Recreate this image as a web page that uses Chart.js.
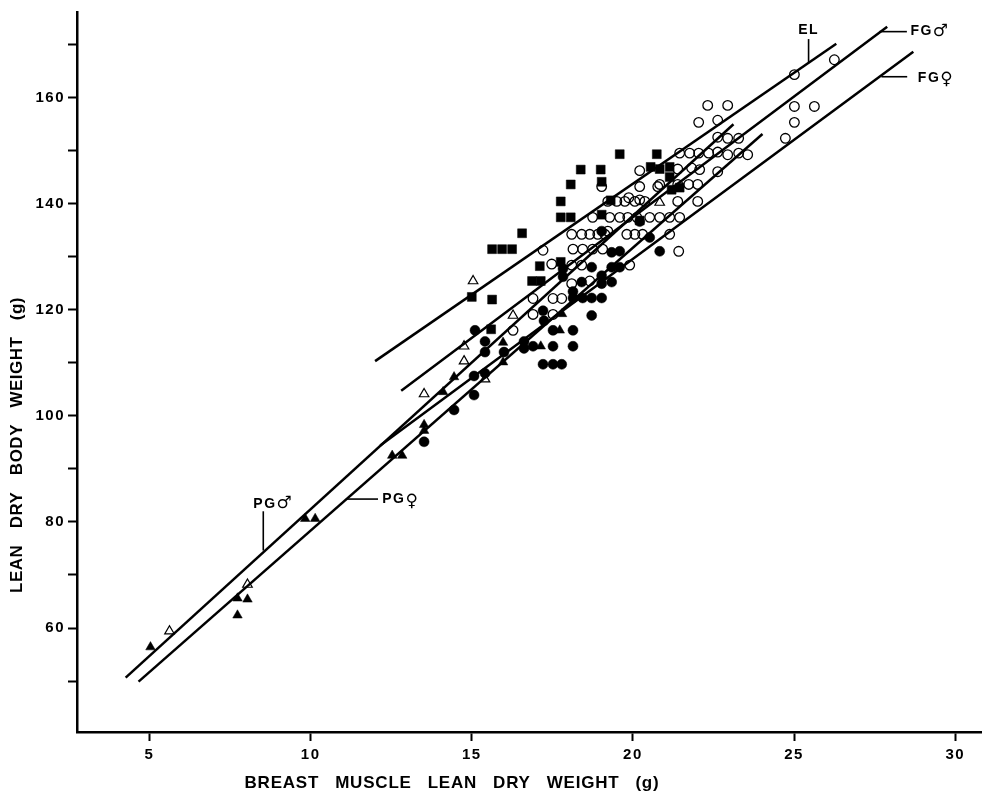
<!DOCTYPE html>
<html><head><meta charset="utf-8">
<script src="https://cdn.jsdelivr.net/npm/chart.js@4/dist/chart.umd.min.js"></script>
<style>html,body{margin:0;padding:0;background:#fff}canvas{display:block}</style>
</head><body>
<canvas id="c" width="988" height="800"></canvas>
<script>
// ---------- text ----------
const xTitle = 'BREAST MUSCLE LEAN DRY WEIGHT (g)';
const yTitle = 'LEAN DRY BODY WEIGHT (g)';
const xTickValues = [5, 10, 15, 20, 25, 30];
const yTickLabels = [60, 80, 100, 120, 140, 160];

// ---------- data: [breast muscle lean dry wt (g), lean dry body wt (g)] ----------
const openCircles = [
  [26.25,167.1],[25.01,164.3],[22.32,158.5],[22.94,158.5],[25.01,158.3],[25.63,158.3],[22.04,155.3],[22.63,155.7],[25.01,155.3],[24.73,152.3],[22.63,152.5],[22.94,152.3],[23.28,152.3],
  [21.45,149.5],[21.76,149.5],[22.04,149.5],[22.35,149.5],[22.63,149.7],[22.94,149.2],[23.28,149.5],[23.56,149.2],
  [21.39,146.5],[21.82,146.7],[22.07,146.4],[22.63,146.0],
  [21.39,143.6],[21.73,143.6],[22.01,143.6],
  [21.39,140.4],[22.01,140.4],
  [21.14,137.4],[21.45,137.4],
  [21.14,134.2],[21.42,131.0],
  [20.21,146.2],[19.03,143.2],[20.21,143.2],[20.77,143.2],[20.83,143.6],
  [19.22,140.4],[19.50,140.4],[19.75,140.4],[20.06,140.4],[20.37,140.4],[19.87,141.1],[20.21,140.7],
  [18.75,137.4],[19.28,137.4],[19.59,137.4],[19.84,137.4],[20.12,137.4],[20.52,137.4],[20.83,137.4],
  [18.10,134.2],[18.41,134.2],[18.66,134.2],[18.91,134.2],[19.13,134.2],[19.81,134.2],[20.06,134.2],[20.30,134.2],[19.22,134.8],
  [17.21,131.2],[18.14,131.4],[18.44,131.4],[18.75,131.4],[19.06,131.4],
  [17.48,128.6],[18.10,128.4],[18.41,128.4],[19.90,128.4],
  [18.66,125.4],[18.10,124.9],[16.90,122.1],[17.52,122.1],[17.79,122.1],[16.90,119.1],[17.52,119.1],[16.28,116.1]
];
const filledCircles = [
  [15.10,116.1],[15.41,114.0],[15.41,112.0],[16.00,112.0],[16.62,114.0],[16.62,112.7],[16.90,113.1],[17.52,113.1],[18.14,113.1],
  [17.52,116.1],[18.14,116.1],[17.21,109.7],[17.52,109.7],[17.79,109.7],[17.21,119.8],[17.24,117.9],
  [18.14,122.2],[18.44,122.2],[18.72,122.2],[19.03,122.2],[19.03,124.9],[19.03,126.4],[19.34,125.2],[19.34,128.0],[18.72,128.0],
  [18.41,125.2],[18.72,118.9],[17.83,127.7],[17.83,126.2],[18.14,123.4],[15.07,107.5],[15.41,108.0],[19.59,128.0],
  [15.07,103.9],[14.45,101.1],[13.52,95.1],[20.21,136.6],[20.52,133.6],[20.83,131.0],[19.03,134.8],[19.34,130.8],[19.59,131.0]
];
const filledSquares = [
  [15.00,122.4],[15.63,121.9],[15.60,116.3],[15.63,131.4],[15.94,131.4],[16.25,131.4],[16.56,134.4],[17.11,128.2],
  [17.76,140.4],[17.76,137.4],[18.07,137.4],[18.07,143.6],[18.38,146.4],[19.00,146.4],[19.59,149.3],[20.74,149.3],
  [19.03,144.1],[17.76,129.0],[16.87,125.4],[17.14,125.4],[19.03,137.9],[19.31,140.6],[20.55,146.9],[20.83,146.5],
  [21.14,146.9],[21.14,145.0],[21.20,142.6],[21.45,143.0],[20.21,136.8]
];
const filledTriangles = [
  [5.03,56.4],[7.73,65.6],[8.04,65.4],[7.73,62.4],[9.83,80.6],[10.14,80.6],[12.53,92.5],[12.84,92.5],[13.52,98.3],[13.52,97.2],
  [14.11,104.5],[14.45,107.3],[15.97,113.8],[15.97,110.1],[17.73,116.1],[17.14,113.1],[17.80,119.2]
];
const openTriangles = [
  [5.62,59.4],[8.04,68.2],[13.52,104.1],[14.76,110.3],[14.76,113.1],[15.04,125.4],[15.41,106.9],[16.28,118.9],[20.83,140.2]
];

// regression lines (end points)
const lineEL  = [[12.00,110.3],[26.31,170.1]];
const lineFGm = [[12.81,104.7],[27.89,173.3]];
const lineFGf = [[12.16,94.4],[28.70,168.6]];
const linePGm = [[4.26,50.65],[23.12,154.95]];
const linePGf = [[4.66,49.9],[24.02,153.1]];

// line labels (text, symbol) and their anchors in data units
const lineLabelText = ['EL', 'FG', 'FG', 'PG', 'PG'];
const lineLabelSym  = ['', '♂', '♀', '♂', '♀'];
const labelLayout = [
  {x:25.45, y:172.6, align:'center', lead:[[25.45,171.0],[25.45,166.5]]},
  {x:28.61, y:172.4, align:'left',   lead:[[27.65,172.4],[28.50,172.4]]},
  {x:28.84, y:163.7, align:'left',   lead:[[27.71,163.9],[28.51,163.9]]},
  {x:8.22,  y:83.4,  align:'left',   lead:[[8.53,82.0],[8.53,74.6]]},
  {x:12.22, y:84.2,  align:'left',   lead:[[11.13,84.3],[12.09,84.3]]}
];

const pts = a => a.map(p => ({x:p[0], y:p[1]}));
const FONT = '"Liberation Sans", Arial, Helvetica, sans-serif';

const annotPlugin = {
  id: 'annot',
  beforeDraw(chart) {
    chart.ctx.letterSpacing = '1.5px';
  },
  afterDraw(chart) {
    const ctx = chart.ctx, xs = chart.scales.x, ys = chart.scales.y, ca = chart.chartArea;
    ctx.save();
    ctx.fillStyle = '#000'; ctx.strokeStyle = '#000';
    ctx.lineWidth = 1.6;
    const LF = 'bold 14px ' + FONT, SF = '17px "DejaVu Sans"';
    labelLayout.forEach((L, i) => {
      ctx.beginPath();
      ctx.moveTo(xs.getPixelForValue(L.lead[0][0]), ys.getPixelForValue(L.lead[0][1]));
      ctx.lineTo(xs.getPixelForValue(L.lead[1][0]), ys.getPixelForValue(L.lead[1][1]));
      ctx.stroke();
      const px = xs.getPixelForValue(L.x), py = ys.getPixelForValue(L.y);
      ctx.textBaseline = 'middle';
      ctx.letterSpacing = '1.5px'; ctx.font = LF;
      const tw = ctx.measureText(lineLabelText[i]).width;
      ctx.letterSpacing = '0px'; ctx.font = SF;
      const sw = lineLabelSym[i] ? ctx.measureText(lineLabelSym[i]).width : 0;
      const x0 = L.align === 'center' ? px - (tw + sw) / 2 : px;
      ctx.textAlign = 'left';
      ctx.letterSpacing = '1.5px'; ctx.font = LF;
      ctx.fillText(lineLabelText[i], x0, py);
      if (lineLabelSym[i]) {
        ctx.letterSpacing = '0px'; ctx.font = SF;
        ctx.fillText(lineLabelSym[i], x0 + tw, py + (lineLabelSym[i] === '♀' ? 2 : 0));
      }
    });
    function spaced(text, cx, cy, total, rot, font, ls) {
      ctx.save();
      ctx.translate(cx, cy);
      if (rot) ctx.rotate(-Math.PI / 2);
      ctx.font = font; ctx.letterSpacing = ls;
      ctx.textBaseline = 'middle'; ctx.textAlign = 'left';
      const words = text.split(' ');
      const w = words.map(s => ctx.measureText(s).width);
      const gap = (total - w.reduce((a, b) => a + b, 0)) / (words.length - 1);
      let x = -total / 2;
      words.forEach((s, k) => { ctx.fillText(s, x, 0); x += w[k] + gap; });
      ctx.restore();
    }
    spaced(xTitle, ca.left + 375, ca.bottom + 51, 415, false, 'bold 17px ' + FONT, '0.8px');
    spaced(yTitle, 17, ca.bottom - 287, 296, true, 'bold 17px ' + FONT, '0.5px');
    ctx.restore();
    ctx.letterSpacing = '0px';
  }
};

const lineDs = (d) => ({type:'line', data: pts(d), borderColor:'#000', borderWidth:2.5, pointRadius:0, fill:false, showLine:true, order:0});

new Chart(document.getElementById('c'), {
  type: 'scatter',
  data: {
    datasets: [
      lineDs(lineEL), lineDs(lineFGm), lineDs(lineFGf), lineDs(linePGm), lineDs(linePGf),
      {label:'open circles', data: pts(openCircles), pointStyle:'circle', pointRadius:4.8, backgroundColor:'rgba(0,0,0,0)', borderColor:'#000', borderWidth:1.3},
      {label:'filled circles', data: pts(filledCircles), pointStyle:'circle', pointRadius:5, backgroundColor:'#000', borderColor:'#000', borderWidth:0.5},
      {label:'filled squares', data: pts(filledSquares), pointStyle:'rect', pointRadius:6.3, backgroundColor:'#000', borderColor:'#000', borderWidth:0.5},
      {label:'filled triangles', data: pts(filledTriangles), pointStyle:'triangle', pointRadius:5.5, backgroundColor:'#000', borderColor:'#000', borderWidth:0.5},
      {label:'open triangles', data: pts(openTriangles), pointStyle:'triangle', pointRadius:5.5, backgroundColor:'rgba(0,0,0,0)', borderColor:'#000', borderWidth:1.2}
    ]
  },
  options: {
    responsive: false,
    devicePixelRatio: 1,
    animation: false,
    layout: {padding: {left: 0, right: 7, top: 6, bottom: 0}},
    plugins: {legend: {display: false}, tooltip: {enabled: false}},
    scales: {
      x: {
        type: 'linear', position: 'bottom', min: 2.75, max: 30.8,
        afterFit: s => { s.height = 68; },
        border: {display: true, color: '#000', width: 2.5},
        grid: {display: true, drawOnChartArea: false, drawTicks: true, tickLength: 9, tickColor: '#000', tickWidth: 2},
        ticks: {stepSize: 5, includeBounds: false, autoSkip: false, maxRotation: 0, padding: 5, color: '#000',
          font: {family: FONT, size: 15, weight: 'bold'},
          callback: v => xTickValues.includes(v) ? String(v) : ''}
      },
      y: {
        type: 'linear', min: 40.4, max: 176.1,
        afterFit: s => { s.width = 77; },
        border: {display: true, color: '#000', width: 2.5},
        grid: {display: true, drawOnChartArea: false, drawTicks: true, tickLength: 9, tickColor: '#000', tickWidth: 2},
        ticks: {stepSize: 10, includeBounds: false, autoSkip: false, padding: 3, color: '#000',
          font: {family: FONT, size: 15, weight: 'bold'},
          callback: v => yTickLabels.includes(v) ? String(v) : ''}
      }
    }
  },
  plugins: [annotPlugin]
});
</script>
</body></html>
